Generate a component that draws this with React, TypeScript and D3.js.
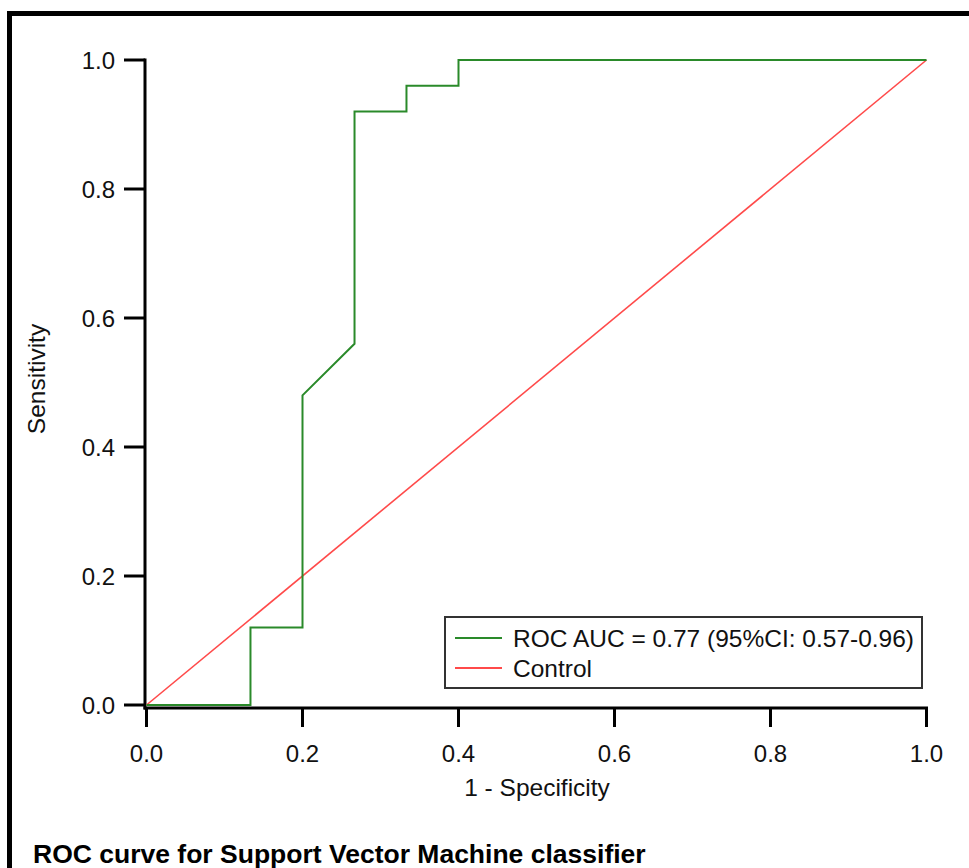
import React from "react";
import * as d3 from "d3";

const rocFpr = [0, 0.1333, 0.1333, 0.2, 0.2, 0.2667, 0.2667, 0.3333, 0.3333, 0.4, 0.4, 1.0];
const rocTpr = [0, 0, 0.12, 0.12, 0.48, 0.56, 0.92, 0.92, 0.96, 0.96, 1.0, 1.0];
const controlX = [0, 1];
const controlY = [0, 1];
const xTicks = [0, 0.2, 0.4, 0.6, 0.8, 1.0];
const yTicks = [0, 0.2, 0.4, 0.6, 0.8, 1.0];
const legendLabels = ["ROC AUC = 0.77 (95%CI: 0.57-0.96)", "Control"];
const legendColors = ["#2a8a2a", "#ff4a4a"];
const title = "ROC curve for Support Vector Machine classifier";
const xTitle = "1 - Specificity";
const yTitle = "Sensitivity";

const W = 969;
const H = 868;
const FONT = "'Liberation Sans', Arial, sans-serif";

export default function App() {
  const x = d3.scaleLinear().domain([0, 1]).range([146.5, 926.5]);
  const y = d3.scaleLinear().domain([0, 1]).range([705, 60]);
  const rocPts: [number, number][] = rocFpr.map((f, i) => [x(f), y(rocTpr[i])]);
  const ctlPts: [number, number][] = controlX.map((f, i) => [x(f), y(controlY[i])]);
  const path = d3.line();
  const axisY = 708;
  const axisX = 145;
  const fmt = d3.format(".1f");

  return (
    <svg
      width={W}
      height={H}
      style={{ position: "absolute", left: 0, top: 0, background: "#fff" }}
      fontFamily={FONT}
    >
      <rect x={0} y={0} width={W} height={H} fill="#fff" />
      {/* outer frame (extends beyond canvas on right/bottom) */}
      <rect x={9.5} y={13.5} width={W + 50} height={H + 50} fill="none" stroke="#000" strokeWidth={5} />

      {/* y axis */}
      <line x1={axisX} x2={axisX} y1={y(1) - 1.5} y2={axisY + 1.5} stroke="#000" strokeWidth={3} />
      {yTicks.map((t) => (
        <g key={"y" + t}>
          <line x1={124} x2={axisX} y1={y(t)} y2={y(t)} stroke="#000" strokeWidth={3} />
          <text x={115} y={y(t)} dy="0.36em" textAnchor="end" fontSize={24} fill="#111">
            {fmt(t)}
          </text>
        </g>
      ))}
      {/* x axis */}
      <line x1={axisX - 1.5} x2={x(1) + 1.5} y1={axisY} y2={axisY} stroke="#000" strokeWidth={3} />
      {xTicks.map((t) => (
        <g key={"x" + t}>
          <line x1={x(t)} x2={x(t)} y1={axisY} y2={727} stroke="#000" strokeWidth={3} />
          <text x={x(t)} y={762} textAnchor="middle" fontSize={24} fill="#111">
            {fmt(t)}
          </text>
        </g>
      ))}

      {/* axis titles */}
      <text x={537} y={796} textAnchor="middle" fontSize={24.5} fill="#111">
        {xTitle}
      </text>
      <text
        transform={`translate(45,379) rotate(-90)`}
        textAnchor="middle"
        fontSize={24.5}
        fill="#111"
      >
        {yTitle}
      </text>

      {/* curves */}
      <path d={path(ctlPts) || ""} fill="none" stroke={legendColors[1]} strokeWidth={1.6} />
      <path d={path(rocPts) || ""} fill="none" stroke={legendColors[0]} strokeWidth={2} />

      {/* legend */}
      <rect x={445} y={617} width={477} height={71} fill="#fff" stroke="#333" strokeWidth={2} />
      {legendLabels.map((l, i) => (
        <g key={l}>
          <line x1={455} x2={502} y1={638 + i * 30} y2={638 + i * 30} stroke={legendColors[i]} strokeWidth={2} />
          <text x={513} y={638 + i * 30} dy="0.36em" fontSize={24.5} fill="#111">
            {l}
          </text>
        </g>
      ))}

      {/* title */}
      <text x={33} y={863} fontSize={26.5} fontWeight="bold" fill="#000">
        {title}
      </text>
    </svg>
  );
}
